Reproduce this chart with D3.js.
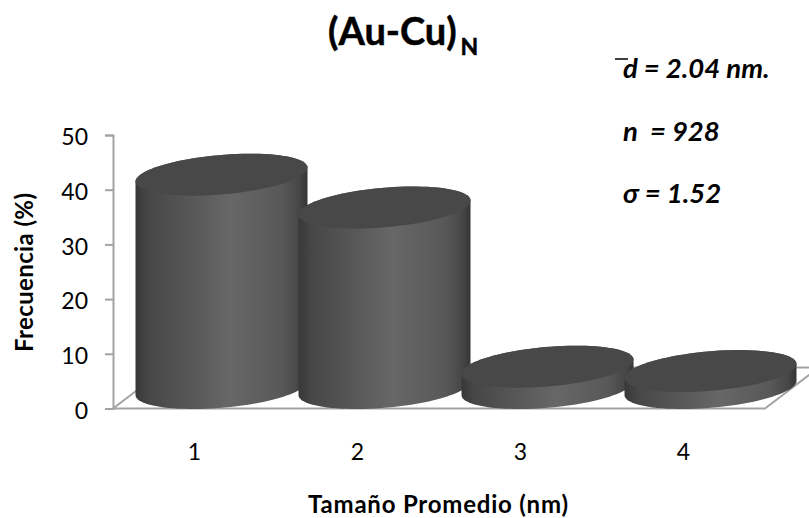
<!DOCTYPE html>
<html><head><meta charset="utf-8">
<script src="https://cdn.jsdelivr.net/npm/d3@7"></script>
<style>html,body{margin:0;padding:0;background:#fff}svg{display:block}text{font-family:Lato,sans-serif;fill:#000;white-space:pre}</style>
</head><body><div id="c"></div>
<script>
const categories = ["1","2","3","4"];
const values = [39, 33, 3.9, 3.1];
const yTicks = [0,10,20,30,40,50];
const titleMain = "(Au-Cu)", titleSub = "N";
const notes = ["d = 2.04 nm.","n  = 928","σ = 1.52"];
const W=809,H=518;
const svg=d3.select("#c").append("svg").attr("width",W).attr("height",H);
const x=d3.scaleBand().domain(categories).range([113,765]);
const y=d3.scaleLinear().domain([0,50]).range([408.5,135]);
const dx=54, dy=-41;       // floor depth
const rx=86, skew=7, ry=19.8;

const grad=svg.append("defs").append("linearGradient").attr("id","cyl");
[[0,"#383838"],[.08,"#474747"],[.3,"#565656"],[.55,"#676767"],[.85,"#585858"],[.95,"#474747"],[1,"#353535"]]
 .forEach(s=>grad.append("stop").attr("offset",s[0]).attr("stop-color",s[1]));

// floor
const axisCol="#a3a3a3";
const floor=d3.line();
const x0=x.range()[0],x1=x.range()[1],y0=y(0);
svg.append("path").attr("fill","none").attr("stroke",axisCol).attr("stroke-width",2)
 .attr("d",floor([[x0,y0],[x1,y0],[x1+dx,y0+dy],[x0+dx,y0+dy],[x0,y0]]));

// y axis
const gy=svg.append("g").attr("transform",`translate(${x0},0)`)
 .call(d3.axisLeft(y).tickValues(yTicks).tickSize(8).tickSizeOuter(8).tickPadding(17));
gy.selectAll("path,line").attr("stroke",axisCol).attr("stroke-width",2);
gy.selectAll("text").attr("font-size",23).attr("font-family","Lato,sans-serif").attr("fill","#000").attr("dy","0.42em");

// x axis
const gx=svg.append("g").attr("transform",`translate(0,${y0})`)
 .call(d3.axisBottom(x).tickSize(0).tickPadding(35));
gx.select(".domain").remove();
gx.selectAll("text").attr("font-size",23).attr("font-family","Lato,sans-serif").attr("fill","#000");

// cylinders
const ts=d3.range(0,361,4).map(d=>d*Math.PI/180);
const pt=(cx,cy,t)=>[cx+rx*Math.cos(t), cy-skew*Math.cos(t)+ry*Math.sin(t)];
const line=d3.line();
const g=svg.append("g");
categories.forEach((c,i)=>{
  const cx=x(c)+x.bandwidth()/2+dx/2;
  const yb=y(0)+dy/2, yt=y(values[i])+dy/2;
  const lower=ts.filter(t=>t<=Math.PI).map(t=>pt(cx,yb,t));       // right -> left along the bottom
  const upper=ts.filter(t=>t>=Math.PI).map(t=>pt(cx,yt,t));       // left -> right along the top
  g.append("path").attr("fill","url(#cyl)").attr("d",line([...lower,...upper])+"Z");
  g.append("path").attr("fill","#484848").attr("d",line(ts.map(t=>pt(cx,yt,t)))+"Z");
});

// titles
const title=svg.append("text").attr("x",328).attr("y",45).attr("font-size",38).attr("font-weight",700)
 .attr("stroke","#000").attr("stroke-width",0.5).text(titleMain);
title.append("tspan").attr("font-size",23).attr("dx",4).attr("dy",10).text(titleSub);
svg.append("text").attr("transform","translate(33,272.5) rotate(-90)").attr("text-anchor","middle")
 .attr("font-size",24).attr("font-weight",700).attr("textLength",159).text("Frecuencia (%)");
svg.append("text").attr("x",438).attr("y",513).attr("text-anchor","middle")
 .attr("font-size",24).attr("font-weight",700).attr("textLength",260).text("Tamaño Promedio (nm)");

// notes
const ny=[78,141,203];
notes.forEach((t,i)=>svg.append("text").attr("x",623).attr("y",ny[i]).attr("font-size",27.5)
 .attr("font-weight",700).attr("font-style","italic").text(t));
svg.append("line").attr("x1",615).attr("x2",628).attr("y1",59).attr("y2",59).attr("stroke","#000").attr("stroke-width",1.5);
</script></body></html>
